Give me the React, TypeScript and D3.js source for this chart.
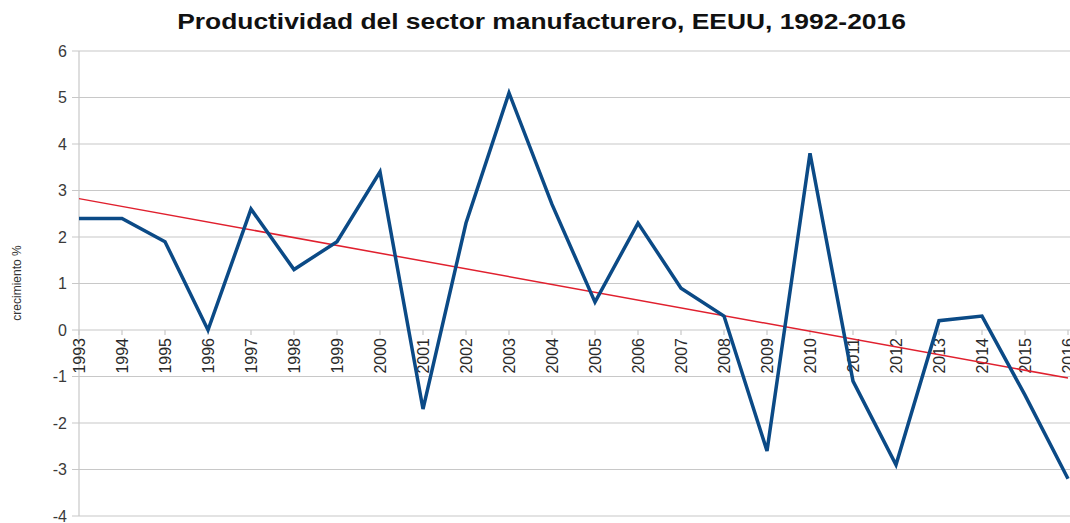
import React from "react";
import * as d3 from "d3";

const years = [1993, 1994, 1995, 1996, 1997, 1998, 1999, 2000, 2001, 2002, 2003, 2004, 2005, 2006, 2007, 2008, 2009, 2010, 2011, 2012, 2013, 2014, 2015, 2016];
const growth = [2.4, 2.4, 1.9, 0.0, 2.6, 1.3, 1.9, 3.4, -1.7, 2.3, 5.1, 2.7, 0.6, 2.3, 0.9, 0.3, -2.6, 3.8, -1.1, -2.9, 0.2, 0.3, -1.4, -3.2];
const yTicks = [-4, -3, -2, -1, 0, 1, 2, 3, 4, 5, 6];
const title = "Productividad del sector manufacturero, EEUU, 1992-2016";
const yLabel = "crecimiento %";

export default function App() {
  const W = 1070, H = 523;
  const left = 79, right = 1068, top = 51, bottom = 516;
  const x = d3.scalePoint<number>().domain(years).range([left, right]);
  const y = d3.scaleLinear().domain([-4, 6]).range([bottom, top]);

  const line = d3.line<number>().x((_, i) => x(years[i])!).y(d => y(d));

  // linear regression trend
  const n = years.length;
  const xm = d3.mean(years)!;
  const ym = d3.mean(growth)!;
  let sxy = 0, sxx = 0;
  years.forEach((yr, i) => { sxy += (yr - xm) * (growth[i] - ym); sxx += (yr - xm) ** 2; });
  const slope = sxy / sxx;
  const intercept = ym - slope * xm;
  const t0 = intercept + slope * years[0];
  const t1 = intercept + slope * years[n - 1];

  const font = "'Liberation Sans', Arial, sans-serif";

  return (
    <svg width={W} height={H} style={{ position: "absolute", left: 0, top: 0, background: "#fff" }} fontFamily={font}>
      <rect width={W} height={H} fill="#fff" />
      <text transform="translate(541.5,29) scale(1.2,1)" textAnchor="middle" fontSize={22} fontWeight="bold" fill="#111">{title}</text>
      {yTicks.map(t => (
        <g key={t}>
          <line x1={left - 7} x2={W} y1={y(t)} y2={y(t)} stroke="#c8c8c8" strokeWidth={1.2} />
          <text x={67} y={y(t)} dy="0.35em" textAnchor="end" fontSize={16} fill="#3a3a3a">{t}</text>
        </g>
      ))}
      <line x1={left} x2={left} y1={top} y2={bottom} stroke="#c8c8c8" strokeWidth={1.2} />
      {years.map(yr => (
        <g key={yr}>
          <line x1={x(yr)} x2={x(yr)} y1={y(0)} y2={y(0) + 5} stroke="#c8c8c8" strokeWidth={1.2} />
          <text transform={`translate(${x(yr)},${y(0) + 8}) rotate(-90)`} dy="0.35em" textAnchor="end" fontSize={16} fill="#2a2a2a">{yr}</text>
        </g>
      ))}
      <text transform={`translate(21,283) rotate(-90)`} textAnchor="middle" fontSize={12} fill="#333">{yLabel}</text>
      <line x1={x(years[0])} x2={x(years[n - 1])} y1={y(t0)} y2={y(t1)} stroke="#e0202e" strokeWidth={1.5} />
      <path d={line(growth)!} fill="none" stroke="#0b4a86" strokeWidth={3.5} strokeLinejoin="miter" />
    </svg>
  );
}
